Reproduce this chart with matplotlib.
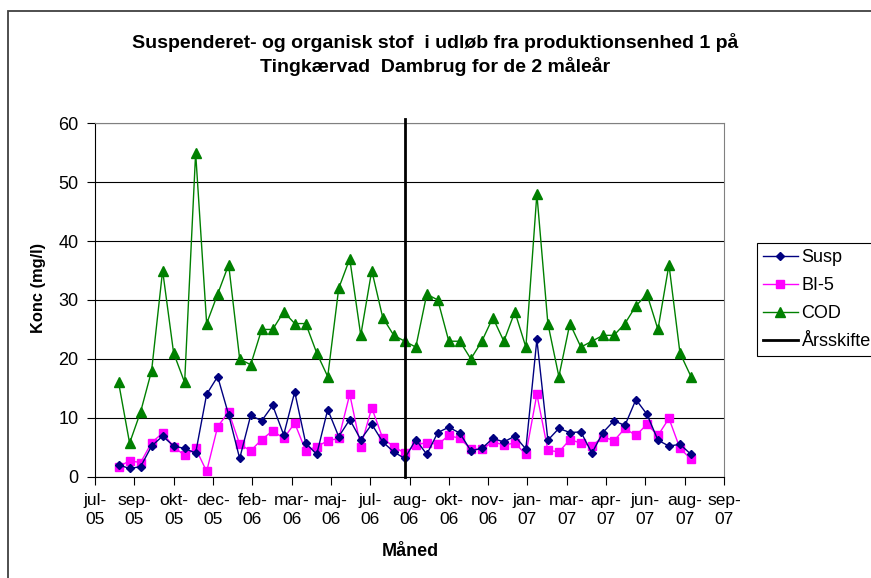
import matplotlib
matplotlib.use("Agg")
import matplotlib.pyplot as plt
import pandas as pd
from matplotlib.patches import Rectangle

plt.rcParams['font.family'] = ['Liberation Sans', 'DejaVu Sans']

# sampling dates, every 14 days, Aug 2005 - Aug 2007
dates = pd.date_range("2005-08-16", periods=53, freq="14D")

susp = [2.0, 1.4, 1.7, 5.2, 6.9, 5.2, 4.8, 4.0, 14.0, 17.0, 10.5, 3.1, 10.4,
        9.5, 12.1, 7.1, 14.4, 5.7, 3.8, 11.4, 6.8, 9.7, 6.3, 8.9, 5.9, 4.2, 3.1,
        6.3, 3.8, 7.5, 8.4, 7.4, 4.4, 4.8, 6.5, 5.9, 6.9, 4.7, 23.3, 6.2, 8.2,
        7.5, 7.6, 4.0, 7.5, 9.5, 8.7, 13.1, 10.6, 6.2, 5.2, 5.5, 3.8]
bi5 = [1.7, 2.7, 2.4, 5.8, 7.4, 5.1, 3.6, 4.8, 0.9, 8.5, 11.0, 5.5, 4.4,
       6.3, 7.8, 6.5, 9.1, 4.4, 5.1, 6.1, 6.5, 14.0, 5.1, 11.7, 6.5, 5.1, 4.0,
       5.4, 5.8, 5.5, 7.0, 6.5, 4.7, 4.7, 5.9, 5.4, 5.7, 3.8, 14.0, 4.5, 4.2,
       6.3, 5.7, 5.2, 6.8, 6.1, 8.2, 7.0, 8.9, 7.0, 9.9, 4.8, 3.0]
cod = [16, 5.7, 11, 18, 35, 21, 16, 55, 26, 31, 36, 20, 19,
       25, 25, 28, 26, 26, 21, 17, 32, 37, 24, 35, 27, 24, 23,
       22, 31, 30, 23, 23, 20, 23, 27, 23, 28, 22, 48, 26, 17,
       26, 22, 23, 24, 24, 26, 29, 31, 25, 36, 21, 17]

skift_x = [pd.Timestamp("2006-08-15"), pd.Timestamp("2006-08-15")]
skift_y = [0, 60.7]

danske_mdr = ['jan', 'feb', 'mar', 'apr', 'maj', 'jun', 'jul', 'aug',
              'sep', 'okt', 'nov', 'dec']

fig = plt.figure(figsize=(8.71, 5.78), dpi=100)
ax = fig.add_axes([95 / 871, 1 - 476.7 / 578, 629 / 871, 353.4 / 578])

# outer chart border
fig.patches.append(Rectangle((8 / 871, -0.2), 1.2, 1.2 - 11 / 578,
                             transform=fig.transFigure, fill=False,
                             edgecolor='#404040', linewidth=1.3))

ax.plot(dates, susp, color='#000080', marker='D', markersize=4.4, linewidth=1,
        label='Susp', zorder=4)
ax.plot(dates, bi5, color='#FF00FF', marker='s', markersize=6, linewidth=1,
        label='BI-5', zorder=3)
ax.plot(dates, cod, color='#008000', marker='^', markersize=6.5, linewidth=1,
        label='COD', zorder=3)
ax.plot(skift_x, skift_y, color='black', linewidth=2, label='Årsskifte',
        clip_on=False, zorder=5)

start = pd.Timestamp("2005-07-17")
ticks = [start + pd.Timedelta(days=50 * i) for i in range(17)]
ax.set_xlim(start, ticks[-1])
ax.set_xticks(ticks)
ax.set_xticklabels([danske_mdr[t.month - 1] + '-\n' + t.strftime('%y') for t in ticks],
                   fontsize=12.5, linespacing=1.3)
ax.set_ylim(0, 60)
ax.set_yticks(range(0, 61, 10))
ax.tick_params(axis='y', labelsize=13, length=6, width=0.8, direction='out', pad=6)
ax.tick_params(axis='x', length=6, width=0.8, direction='out', pad=6)
ax.yaxis.grid(True, color='black', linewidth=0.8)
ax.set_axisbelow(True)
for side in ['top', 'right']:
    ax.spines[side].set_color('#808080')
for side in ['left', 'bottom']:
    ax.spines[side].set_color('black')

ax.set_ylabel('Konc (mg/l)', fontsize=11.8, fontweight='bold', va='center')
ax.yaxis.set_label_coords((38 - 95) / 629, (476.7 - 288) / 353.4)
ax.set_xlabel('Måned', fontsize=13, fontweight='bold', va='center')
ax.xaxis.set_label_coords((410 - 95) / 629, -(552 - 476.7) / 353.4)

fig.text(0.5, 1 - 43 / 578, 'Suspenderet- og organisk stof  i udløb fra produktionsenhed 1 på',
         ha='center', va='center', fontsize=14, fontweight='bold')
fig.text(0.5, 1 - 67 / 578, 'Tingkærvad  Dambrug for de 2 måleår',
         ha='center', va='center', fontsize=14, fontweight='bold')

leg = fig.legend(loc='upper left', bbox_to_anchor=(757 / 871, 1 - 243 / 578),
                 fontsize=13, frameon=True, fancybox=False, framealpha=1,
                 handlelength=1.9, handletextpad=0.22, borderpad=0.35,
                 labelspacing=0.6, borderaxespad=0)
leg.get_frame().set_edgecolor('black')
leg.get_frame().set_linewidth(0.8)

fig.savefig('out.png', dpi=100)
